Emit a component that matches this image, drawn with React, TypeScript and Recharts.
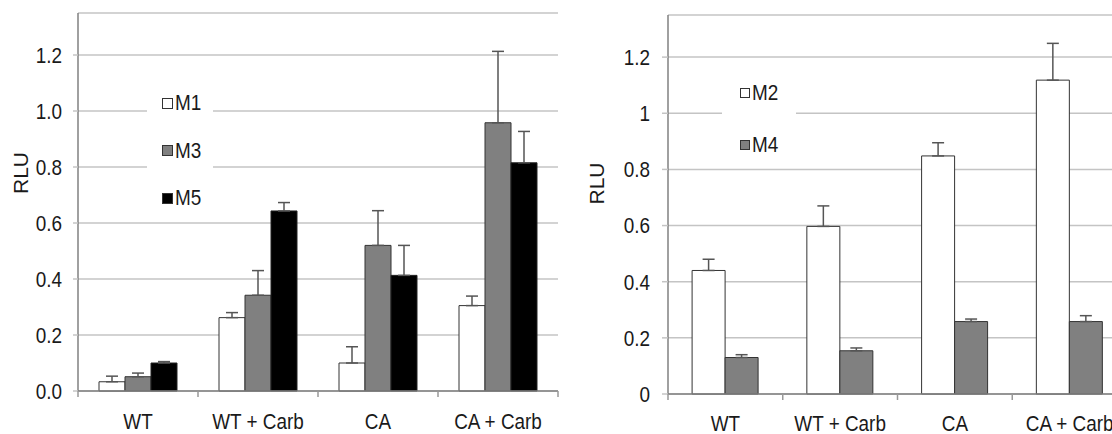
import {
  BarChart,
  Bar,
  XAxis,
  YAxis,
  CartesianGrid,
  ErrorBar,
  Legend,
} from "recharts";

const categories = ["WT", "WT + Carb", "CA", "CA + Carb"];

// left panel
const m1 = [0.033, 0.262, 0.1, 0.305];
const m1Err = [0.02, 0.018, 0.058, 0.034];
const m3 = [0.051, 0.342, 0.52, 0.958];
const m3Err = [0.013, 0.088, 0.124, 0.255];
const m5 = [0.1, 0.643, 0.413, 0.815];
const m5Err = [0.005, 0.03, 0.107, 0.112];

// right panel
const m2 = [0.44, 0.597, 0.848, 1.118];
const m2Err = [0.04, 0.073, 0.047, 0.131];
const m4 = [0.13, 0.154, 0.258, 0.258];
const m4Err = [0.01, 0.01, 0.009, 0.021];

const yTicks = [0, 0.2, 0.4, 0.6, 0.8, 1.0, 1.2];

const FONT = "'Liberation Sans', Arial, sans-serif";
const NARROW = 0.86;
const TEXT = "#1a1a1a";
const GRID = "#c4c4c4";
const FRAME = "#808080";

const leftData = categories.map((c, i) => ({
  name: c,
  M1: m1[i],
  m1e: [0, m1Err[i]],
  M3: m3[i],
  m3e: [0, m3Err[i]],
  M5: m5[i],
  m5e: [0, m5Err[i]],
}));

const rightData = categories.map((c, i) => ({
  name: c,
  M2: m2[i],
  m2e: [0, m2Err[i]],
  M4: m4[i],
  m4e: [0, m4Err[i]],
}));

// condensed-looking tick text (the original uses a narrow sans)
function NarrowTick(props: any) {
  const { x, y, payload, textAnchor, dy, fmt } = props;
  const v = fmt ? fmt(payload.value) : payload.value;
  return (
    <g transform={`translate(${x},${y})`}>
      <text
        transform={`scale(${NARROW},1)`}
        textAnchor={textAnchor}
        dy={dy}
        fontFamily={FONT}
        fontSize={22}
        fill={TEXT}
      >
        {v}
      </text>
    </g>
  );
}

// category label + Excel-style tick marks on the category boundaries
function CatTick(props: any) {
  const { x, y, width, visibleTicksCount, index, gap } = props;
  const band = width && visibleTicksCount ? width / visibleTicksCount : 0;
  const axisY = y - gap;
  const mark = (mx: number) => (
    <line x1={mx} x2={mx} y1={axisY} y2={axisY + 6} stroke="#999" strokeWidth={1.5} />
  );
  return (
    <g>
      {band > 0 && mark(x - band / 2)}
      {band > 0 && index === visibleTicksCount - 1 && mark(x + band / 2)}
      <NarrowTick {...props} dy="0.71em" />
    </g>
  );
}

function AxisTitle(props: any) {
  const { viewBox, cx, shiftY } = props;
  const x = viewBox.x + cx;
  const y = viewBox.y + viewBox.height / 2 + shiftY;
  return (
    <text
      x={x}
      y={y}
      transform={`rotate(-90, ${x}, ${y})`}
      textAnchor="middle"
      dominantBaseline="central"
      fontFamily={FONT}
      fontSize={21}
      fill={TEXT}
    >
      RLU
    </text>
  );
}

function BoxLegend(props: any) {
  const { payload, rowH, gap, padL, sq } = props;
  return (
    <div style={{ background: "#fff", paddingLeft: padL, fontFamily: FONT }}>
      {(payload || []).map((e: any) => (
        <div
          key={e.value}
          style={{
            display: "flex",
            alignItems: "center",
            height: rowH,
            marginBottom: gap,
            fontSize: 22,
            color: TEXT,
          }}
        >
          <span
            style={{
              width: sq,
              height: sq,
              background: e.color,
              border: "1px solid #333",
              boxSizing: "border-box",
              marginRight: 2,
            }}
          />
          <span
            style={{
              display: "inline-block",
              transform: `scaleX(${NARROW})`,
              transformOrigin: "left center",
            }}
          >
            {e.value}
          </span>
        </div>
      ))}
    </div>
  );
}

const errProps = { width: 6, stroke: "#555", strokeWidth: 1.5, direction: "y" as const };
const fmtLeft = (v: number) => v.toFixed(1);
const fmtRight = (v: number) => String(v);

export default function App() {
  return (
    <div
      style={{
        position: "absolute",
        left: 0,
        top: 0,
        width: 1112,
        height: 434,
        overflow: "hidden",
        background: "#fff",
      }}
    >
      <div style={{ position: "absolute", left: 0, top: 0 }}>
        <BarChart
          width={600}
          height={434}
          data={leftData}
          margin={{ top: 13, right: 42, bottom: 0, left: 0 }}
          barCategoryGap="17.5%"
          barGap={0}
        >
          <CartesianGrid horizontal vertical={false} stroke={GRID} strokeWidth={1.5} />
          <XAxis
            dataKey="name"
            height={43}
            tickLine={false}
            axisLine={{ stroke: FRAME, strokeWidth: 1.5 }}
            tick={<CatTick gap={22} />}
            tickSize={6}
            tickMargin={16}
            interval={0}
          />
          <XAxis xAxisId="top" orientation="top" type="number" domain={[0, 1]} tick={false} tickLine={false} height={0} axisLine={{ stroke: FRAME, strokeWidth: 1.5 }} />
          <YAxis
            domain={[0, 1.35]}
            ticks={yTicks}
            width={78}
            tick={<NarrowTick dy="0.355em" fmt={fmtLeft} />}
            tickSize={5}
            tickMargin={11}
            tickLine={{ stroke: GRID, strokeWidth: 1.5 }}
            axisLine={{ stroke: FRAME, strokeWidth: 1.5 }}
            label={(p: any) => <AxisTitle {...p} cx={20} shiftY={-29} />}
          />
          <YAxis yAxisId="rb" orientation="right" type="number" domain={[0, 1]} tick={false} tickLine={false} width={0} axisLine={{ stroke: FRAME, strokeWidth: 1.5 }} />
          <Legend
            layout="vertical"
            align="center"
            verticalAlign="middle"
            wrapperStyle={{ left: 147, top: 84, width: 66 }}
            content={(p: any) => <BoxLegend {...p} rowH={38} gap={9.5} padL={15} sq={11} />}
          />
          <Bar dataKey="M1" name="M1" fill="#ffffff" stroke="#333" strokeWidth={1} isAnimationActive={false}>
            <ErrorBar dataKey="m1e" {...errProps} />
          </Bar>
          <Bar dataKey="M3" name="M3" fill="#808080" stroke="#333" strokeWidth={1} isAnimationActive={false}>
            <ErrorBar dataKey="m3e" {...errProps} />
          </Bar>
          <Bar dataKey="M5" name="M5" fill="#000000" stroke="#222" strokeWidth={1} isAnimationActive={false}>
            <ErrorBar dataKey="m5e" {...errProps} />
          </Bar>
        </BarChart>
      </div>

      <div style={{ position: "absolute", left: 560, top: 0 }}>
        <BarChart
          width={600}
          height={434}
          data={rightData}
          margin={{ top: 15, right: 33, bottom: 0, left: 0 }}
          barCategoryGap="21%"
          barGap={0}
        >
          <CartesianGrid horizontal vertical={false} stroke={GRID} strokeWidth={1.5} />
          <XAxis
            dataKey="name"
            height={40}
            tickLine={false}
            axisLine={{ stroke: FRAME, strokeWidth: 1.5 }}
            tick={<CatTick gap={21} />}
            tickSize={6}
            tickMargin={15}
            interval={0}
          />
          <XAxis xAxisId="top" orientation="top" type="number" domain={[0, 1]} tick={false} tickLine={false} height={0} axisLine={{ stroke: "#222", strokeWidth: 1.5 }} />
          <YAxis
            domain={[0, 1.35]}
            ticks={yTicks}
            width={108}
            tick={<NarrowTick dy="0.355em" fmt={fmtRight} />}
            tickSize={6}
            tickMargin={12}
            tickLine={{ stroke: GRID, strokeWidth: 1.5 }}
            axisLine={{ stroke: FRAME, strokeWidth: 1.5 }}
            label={(p: any) => <AxisTitle {...p} cx={36} shiftY={-21} />}
          />
          <Legend
            layout="vertical"
            align="center"
            verticalAlign="middle"
            wrapperStyle={{ left: 162, top: 73, width: 74 }}
            content={(p: any) => <BoxLegend {...p} rowH={40} gap={12} padL={18} sq={10} />}
          />
          <Bar dataKey="M2" name="M2" fill="#ffffff" stroke="#333" strokeWidth={1} isAnimationActive={false}>
            <ErrorBar dataKey="m2e" {...errProps} />
          </Bar>
          <Bar dataKey="M4" name="M4" fill="#808080" stroke="#333" strokeWidth={1} isAnimationActive={false}>
            <ErrorBar dataKey="m4e" {...errProps} />
          </Bar>
        </BarChart>
      </div>
    </div>
  );
}
